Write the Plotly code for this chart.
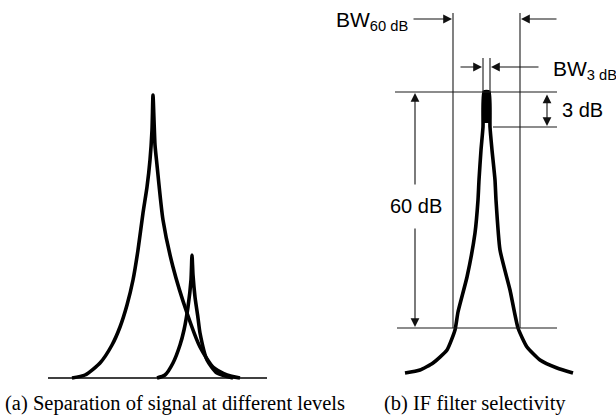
import plotly.graph_objects as go

# ---- Panel (a): two signals at different levels (diagram units, y grows downward) ----
big_peak_x = [72, 85, 100, 112, 120, 127, 133, 138, 143, 147, 150, 152, 153,
              154, 155, 157, 163, 173, 187, 200, 213, 227, 240]
big_peak_y = [378, 375, 363, 345, 327, 305, 280, 250, 213, 187, 160, 130, 95,
              120, 145, 165, 220, 267, 313, 347, 367, 375, 378]

small_peak_x = [157, 165, 173, 180, 184, 188, 191, 192, 193, 195, 198, 200, 207, 217, 233]
small_peak_y = [378, 375, 363, 345, 330, 307, 280, 255, 275, 297, 318, 333, 360, 373, 378]

baseline_x = [48, 267]
baseline_y = [378, 378]

# ---- Panel (b): IF filter selectivity ----
filter_x = [405, 420, 433, 447, 455, 458, 467, 475, 478, 479, 481, 483, 484,
            489, 490, 492, 495, 496, 500, 510, 518, 527, 540, 557, 573]
filter_y = [373, 370, 363, 350, 330, 312, 277, 233, 200, 180, 150, 127, 92,
            92, 127, 150, 180, 200, 250, 290, 328, 347, 360, 368, 373]

ref_top_y = 92        # 0 dB reference
ref_3db_y = 127       # -3 dB level
ref_60db_y = 328      # -60 dB level
bw60_edges = [453, 520]
bw3_edges = [483, 490]

caption_a = "(a) Separation of signal at different levels"
caption_b = "(b) IF filter selectivity"
label_bw60 = "BW<sub>60 dB</sub>"
label_bw3 = "BW<sub>3 dB</sub>"
label_3db = "3 dB"
label_60db = "60 dB"

fig = go.Figure()

curve = dict(color="black", width=3.6)
thin = dict(color="#1a1a1a", width=1.1)

fig.add_trace(go.Scatter(x=baseline_x, y=baseline_y, mode="lines",
                         line=dict(color="black", width=1.6)))
fig.add_trace(go.Scatter(x=big_peak_x, y=big_peak_y, mode="lines",
                         line=dict(curve, shape="spline", smoothing=0.6)))
fig.add_trace(go.Scatter(x=small_peak_x, y=small_peak_y, mode="lines",
                         line=dict(curve, shape="spline", smoothing=0.6)))

# Filter curve with filled top
fig.add_trace(go.Scatter(x=filter_x, y=filter_y, mode="lines",
                         line=dict(curve, shape="spline", smoothing=0.5)))
fig.add_shape(type="rect", x0=bw3_edges[0], x1=bw3_edges[1] + 1,
              y0=ref_top_y, y1=ref_3db_y - 4, fillcolor="black", line_width=0)

# Reference horizontal lines
fig.add_shape(type="line", x0=395, x1=557, y0=ref_top_y, y1=ref_top_y, line=thin)
fig.add_shape(type="line", x0=493, x1=557, y0=ref_3db_y, y1=ref_3db_y, line=thin)
fig.add_shape(type="line", x0=397, x1=557, y0=ref_60db_y, y1=ref_60db_y, line=thin)

# Bandwidth verticals
for xe in bw60_edges:
    fig.add_shape(type="line", x0=xe, x1=xe, y0=13, y1=ref_60db_y, line=thin)
for xe in bw3_edges:
    fig.add_shape(type="line", x0=xe, x1=xe, y0=58, y1=ref_top_y, line=thin)

def arrow(x, y, ax, ay, side="end"):
    fig.add_annotation(x=x, y=y, ax=ax, ay=ay, xref="x", yref="y",
                       axref="x", ayref="y", text="", showarrow=True,
                       arrowhead=2, arrowsize=1.6, arrowwidth=1.1,
                       arrowcolor="#111", arrowside=side,
                       startarrowhead=2, startarrowsize=1.6)

# BW60 arrows
arrow(452, 19, 412, 19)
arrow(521, 19, 558, 19)
# BW3 arrows
arrow(482, 67, 459, 67)
arrow(491, 67, 540, 67)
# 60 dB arrows
arrow(415, 93, 415, 186)
arrow(415, 327, 415, 227)
# 3 dB double arrow
arrow(547, 126, 547, 93, side="end+start")

sans = "Liberation Sans, Arial, sans-serif"
serif = "Liberation Serif, Times New Roman, serif"

fig.add_annotation(x=334, y=21, text=label_bw60, showarrow=False,
                   xanchor="left", yanchor="middle",
                   font=dict(family=sans, size=21, color="black"))
fig.add_annotation(x=551, y=70, text=label_bw3, showarrow=False,
                   xanchor="left", yanchor="middle",
                   font=dict(family=sans, size=21, color="black"))
fig.add_annotation(x=560, y=110, text=label_3db, showarrow=False,
                   xanchor="left", yanchor="middle",
                   font=dict(family=sans, size=20, color="black"))
fig.add_annotation(x=416, y=206, text=label_60db, showarrow=False,
                   xanchor="center", yanchor="middle",
                   font=dict(family=sans, size=20, color="black"))

fig.add_annotation(x=3, y=403, text=caption_a, showarrow=False,
                   xanchor="left", yanchor="middle",
                   font=dict(family=serif, size=20.5, color="black"))
fig.add_annotation(x=475, y=403, text=caption_b, showarrow=False,
                   xanchor="center", yanchor="middle",
                   font=dict(family=serif, size=20.5, color="black"))

fig.update_layout(
    width=616, height=415,
    margin=dict(l=0, r=0, t=0, b=0),
    paper_bgcolor="white", plot_bgcolor="white",
    showlegend=False,
    xaxis=dict(range=[0, 616], visible=False, fixedrange=True),
    yaxis=dict(range=[415, 0], visible=False, fixedrange=True),
)

fig.write_html("out.html", config={"displayModeBar": False},
               post_script="document.body.style.margin='0px';document.body.style.overflow='hidden';")
